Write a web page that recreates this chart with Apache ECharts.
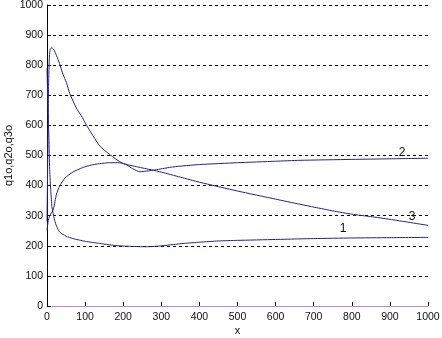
<!DOCTYPE html>
<html>
<head>
<meta charset="utf-8">
<script src="https://cdn.jsdelivr.net/npm/echarts@6/dist/echarts.min.js"></script>
<style>
  html, body { margin: 0; padding: 0; background: #fff; }
  #chart { width: 442px; height: 338px; }
</style>
</head>
<body>
<div id="chart"></div>
<script>
// courbe 1 (chute rapide puis plateau ~230)
const x1 = [0, 2, 5, 7, 10, 13, 16, 20, 25, 33, 42, 50, 68, 85, 100, 120, 138, 160, 186, 225, 252, 268, 300, 331, 360, 401, 450, 500, 600, 664, 700, 800, 900, 1000];
const y1 = [790, 680, 560, 453, 380, 330, 308, 285, 265, 246, 238, 232, 224, 219, 215, 211, 208, 204, 200, 198, 197, 197, 200, 204, 208, 212, 216, 218, 221, 223, 224, 226, 227, 228];

// courbe 2 (montée vers ~490)
const x2 = [0, 3, 7, 12, 17, 25, 33, 47, 68, 94, 112, 138, 165, 191, 210, 225, 244, 260, 288, 330, 401, 500, 600, 664, 800, 900, 1000];
const y2 = [252, 280, 300, 310, 322, 372, 398, 425, 445, 460, 467, 473, 476, 476, 468, 456, 446, 448, 453, 462, 470, 476, 481, 484, 487, 489, 491];

// courbe 3 (pic ~858 puis décroissance)
const x3 = [0, 2, 4, 6, 8, 12, 18, 25, 33, 42, 51, 60, 77, 90, 104, 125, 139, 165, 197, 238, 275, 300, 350, 401, 500, 600, 664, 750, 800, 850, 900, 950, 1000];
const y3 = [280, 500, 720, 820, 850, 858, 852, 832, 805, 770, 742, 705, 658, 632, 600, 557, 531, 503, 475, 462, 452, 445, 428, 411, 382, 355, 338, 316, 305, 297, 288, 278, 268];

// étiquettes des courbes
const curveNames = ['1', '2', '3'];
const labelX = [777, 932, 958];
const labelY = [257, 510, 297];

const lineColor = '#24248f';
const font = "'Liberation Sans', Arial, sans-serif";

function pts(xs, ys) {
    return xs.map((x, i) => [x, ys[i]]);
}

function courbe(xs, ys, k) {
    return {
        type: 'line',
        name: curveNames[k],
        data: pts(xs, ys),
        showSymbol: false,
        smooth: 0.2,
        lineStyle: { color: lineColor, width: 1 },
        markPoint: {
            symbol: 'circle',
            symbolSize: 1,
            itemStyle: { color: 'rgba(0,0,0,0)' },
            label: {
                show: true,
                position: 'inside',
                formatter: curveNames[k],
                color: '#111',
                fontFamily: font,
                fontSize: 12
            },
            data: [{ coord: [labelX[k], labelY[k]] }]
        },
        animation: false
    };
}

const chart = echarts.init(document.getElementById('chart'));

chart.setOption({
    backgroundColor: '#fff',
    grid: { left: 47, right: 14, top: 5, bottom: 32, outerBoundsMode: 'none' },
    xAxis: {
        type: 'value',
        min: 0,
        max: 1000,
        interval: 100,
        name: 'x',
        nameLocation: 'middle',
        nameGap: 19,
        nameMoveOverlap: false,
        nameTextStyle: { color: '#111', fontFamily: font, fontSize: 11 },
        axisLine: { show: true, lineStyle: { color: '#c48bbf', width: 1 } },
        axisTick: { show: true, inside: true, length: 4, lineStyle: { color: '#000' } },
        axisLabel: {
            color: '#111', fontFamily: font, fontSize: 10.5, margin: 6,
            formatter: v => String(v)
        },
        splitLine: { show: false }
    },
    yAxis: {
        type: 'value',
        min: 0,
        max: 1000,
        interval: 100,
        name: 'q1o,q2o,q3o',
        nameLocation: 'middle',
        nameGap: 33,
        nameMoveOverlap: false,
        nameTextStyle: { color: '#111', fontFamily: font, fontSize: 11 },
        axisLine: { show: true, lineStyle: { color: '#000', width: 1 } },
        axisTick: { show: true, inside: true, length: 4, lineStyle: { color: '#000' } },
        axisLabel: {
            color: '#111', fontFamily: font, fontSize: 10.5, margin: 4,
            formatter: v => String(v)
        },
        splitLine: {
            show: true,
            lineStyle: { color: '#000', width: 1, type: [3, 3] }
        }
    },
    series: [courbe(x1, y1, 0), courbe(x2, y2, 1), courbe(x3, y3, 2)],
    animation: false
});
</script>
</body>
</html>
